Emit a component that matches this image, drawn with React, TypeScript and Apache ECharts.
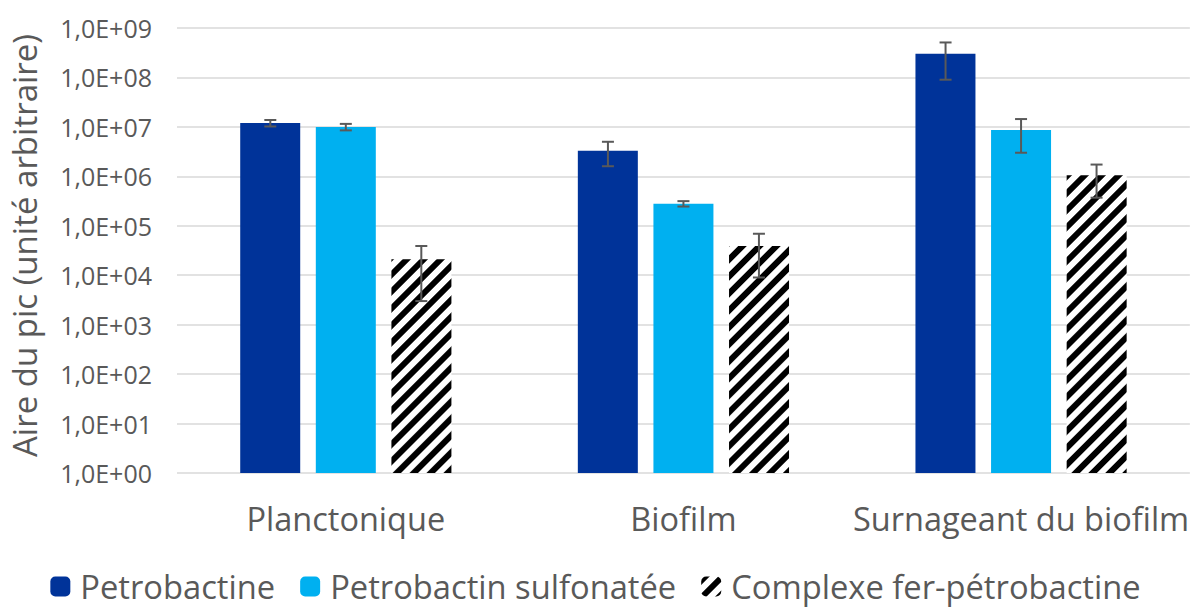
import React, { useEffect, useRef } from "react";
import * as echarts from "echarts";

const categories = ["Planctonique", "Biofilm", "Surnageant du biofilm"];
const seriesNames = ["Petrobactine", "Petrobactin sulfonatée", "Complexe fer-pétrobactine"];
const petrobactine = [1.2e7, 3.3e6, 3.0e8];
const petrobactineErr = [1.8e6, 1.7e6, 2.1e8];
const sulfonatee = [1.0e7, 2.8e5, 8.7e6];
const sulfonateeErr = [1.5e6, 3.5e4, 5.7e6];
const complexe = [2.1e4, 3.9e4, 1.05e6];
const complexeErr = [1.8e4, 3.0e4, 0.68e6];

const FONT = "'Open Sans', sans-serif";
const GREY = "#595959";

export default function App() {
  const ref = useRef<HTMLDivElement>(null);
  useEffect(() => {
    const chart = echarts.init(ref.current!, null, { renderer: "svg" });
    const values = [petrobactine, sulfonatee, complexe];
    const errs = [petrobactineErr, sulfonateeErr, complexeErr];
    const errData: number[][] = [];
    values.forEach((vals, s) => {
      vals.forEach((v, c) => {
        errData.push([c, s, v - errs[s][c], v + errs[s][c]]);
      });
    });
    const offsets = [-75.5, 0, 75.5];
    chart.setOption({
      animation: false,
      grid: { left: 173, right: -2, top: 28, bottom: 135 },
      legend: {
        bottom: 0,
        left: "center",
        itemWidth: 20,
        itemHeight: 20,
        itemGap: 25,
        textStyle: { fontFamily: FONT, fontSize: 32.7, color: GREY, padding: [0, 0, 0, 5] },
        data: seriesNames,
      },
      xAxis: {
        type: "category",
        data: categories,
        axisTick: { show: false },
        axisLine: { show: false },
        axisLabel: { fontFamily: FONT, fontSize: 32.5, color: GREY, margin: 29, interval: 0 },
      },
      yAxis: {
        type: "log",
        logBase: 10,
        min: 1,
        max: 1e9,
        name: "Aire du pic (unité arbitraire)",
        nameLocation: "middle",
        nameGap: 136,
        nameTextStyle: { fontFamily: FONT, fontSize: 33, color: GREY, padding: [0, 0, 0, 10] },
        axisLine: { show: false },
        axisTick: { show: false },
        splitLine: { lineStyle: { color: "#d9d9d9", width: 1.5 } },
        axisLabel: {
          fontFamily: FONT,
          fontSize: 25,
          color: GREY,
          margin: 25,
          formatter: (v: number) => {
            const e = Math.round(Math.log10(v));
            return "1,0E+" + (e < 10 ? "0" + e : "" + e);
          },
        },
      },
      series: [
        {
          name: seriesNames[0],
          type: "bar",
          data: petrobactine,
          barWidth: 60,
          barGap: "26%",
          barCategoryGap: "37%",
          itemStyle: { color: "#003399" },
        },
        {
          name: seriesNames[1],
          type: "bar",
          data: sulfonatee,
          barWidth: 60,
          barGap: "26%",
          itemStyle: { color: "#00b0f0" },
        },
        {
          name: seriesNames[2],
          type: "bar",
          data: complexe,
          barWidth: 60,
          barGap: "26%",
          itemStyle: {
            color: "#ffffff",
            decal: {
              symbol: "rect",
              symbolSize: 1,
              color: "#000000",
              dashArrayX: [1, 0],
              dashArrayY: [5.6, 5.7],
              rotation: -Math.PI / 4,
            },
          },
        },
        {
          type: "custom",
          data: errData,
          z: 10,
          silent: true,
          renderItem: (params: any, api: any) => {
            const c = api.value(0);
            const s = api.value(1);
            const lo = api.coord([c, api.value(2)]);
            const hi = api.coord([c, api.value(3)]);
            const x = lo[0] + offsets[s];
            const w = 6;
            const style = { stroke: GREY, lineWidth: 2 };
            return {
              type: "group",
              children: [
                { type: "line", shape: { x1: x, y1: lo[1], x2: x, y2: hi[1] }, style },
                { type: "line", shape: { x1: x - w, y1: lo[1], x2: x + w, y2: lo[1] }, style },
                { type: "line", shape: { x1: x - w, y1: hi[1], x2: x + w, y2: hi[1] }, style },
              ],
            };
          },
        },
      ],
    });
    return () => chart.dispose();
  }, []);
  return <div ref={ref} style={{ width: 1191, height: 608, position: "absolute", left: 0, top: 0 }} />;
}
